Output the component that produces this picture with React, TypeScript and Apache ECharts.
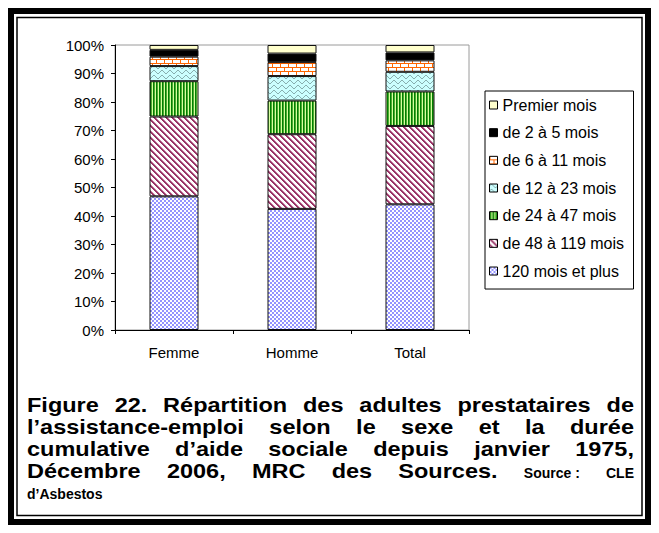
import React, { useEffect, useRef } from 'react';
import * as echarts from 'echarts';

const categories = ['Femme', 'Homme', 'Total'];
const seriesNames = [
  '120 mois et plus',
  'de 48 à 119 mois',
  'de 24 à 47 mois',
  'de 12 à 23 mois',
  'de 6 à 11 mois',
  'de 2 à 5 mois',
  'Premier mois',
];
const v120plus = [46.9, 42.5, 44.1];
const v48to119 = [28.0, 26.2, 27.5];
const v24to47 = [12.4, 11.8, 12.1];
const v12to23 = [5.3, 8.6, 6.9];
const v6to11 = [3.3, 4.9, 4.0];
const v2to5 = [2.4, 3.0, 2.8];
const vPremier = [1.7, 3.0, 2.6];
const seriesValues = [v120plus, v48to119, v24to47, v12to23, v6to11, v2to5, vPremier];

const BIG = 21;
const BIG_SX = 1.12;
const SMALL = 14;
const captionLines: { y: number; tokens: [string, number][]; justify: boolean }[] = [
  { y: 405, justify: true, tokens: [['Figure', BIG], ['22.', BIG], ['Répartition', BIG], ['des', BIG], ['adultes', BIG], ['prestataires', BIG], ['de', BIG]] },
  { y: 427, justify: true, tokens: [['l’assistance-emploi', BIG], ['selon', BIG], ['le', BIG], ['sexe', BIG], ['et', BIG], ['la', BIG], ['durée', BIG]] },
  { y: 449, justify: true, tokens: [['cumulative', BIG], ['d’aide', BIG], ['sociale', BIG], ['depuis', BIG], ['janvier', BIG], ['1975,', BIG]] },
  { y: 471, justify: true, tokens: [['Décembre', BIG], ['2006,', BIG], ['MRC', BIG], ['des', BIG], ['Sources.', BIG], ['Source :', SMALL], ['CLE', SMALL]] },
  { y: 492, justify: false, tokens: [['d’Asbestos', SMALL]] },
];

const FONT = '"Liberation Sans", Arial, sans-serif';

function makePattern(w: number, h: number, draw: (c: CanvasRenderingContext2D) => void) {
  const cv = document.createElement('canvas');
  cv.width = w;
  cv.height = h;
  const c = cv.getContext('2d')!;
  draw(c);
  return { image: cv.toDataURL(), repeat: 'repeat', imageWidth: w, imageHeight: h } as any;
}

function buildColors() {
  const checker = makePattern(4, 4, (c) => {
    c.fillStyle = '#fff';
    c.fillRect(0, 0, 4, 4);
    c.fillStyle = '#9494FF';
    c.fillRect(0, 0, 2, 2);
    c.fillRect(2, 2, 2, 2);
  });
  const diag = makePattern(6, 6, (c) => {
    c.fillStyle = '#fff';
    c.fillRect(0, 0, 6, 6);
    for (let y = 0; y < 6; y++) {
      for (let x = 0; x < 6; x++) {
        const k = (((x - y) % 6) + 6) % 6;
        if (k < 2) {
          c.fillStyle = '#993366';
          c.fillRect(x, y, 1, 1);
        } else if (k === 2) {
          c.fillStyle = '#c98aa8';
          c.fillRect(x, y, 1, 1);
        }
      }
    }
  });
  const vstripe = makePattern(3, 3, (c) => {
    c.fillStyle = '#008000';
    c.fillRect(0, 0, 1, 3);
    c.fillStyle = '#4CA832';
    c.fillRect(1, 0, 1, 3);
    c.fillStyle = '#D6FF9E';
    c.fillRect(2, 0, 1, 3);
  });
  const wave = makePattern(8, 5, (c) => {
    c.fillStyle = '#CCFFFF';
    c.fillRect(0, 0, 8, 5);
    const ys = [1, 0, 0, 1, 2, 3, 3, 2];
    c.fillStyle = '#88AFAF';
    ys.forEach((yy, x) => c.fillRect(x, yy, 1, 1));
  });
  const brick = makePattern(8, 8, (c) => {
    c.fillStyle = '#fff';
    c.fillRect(0, 0, 8, 8);
    c.fillStyle = '#FF6600';
    c.fillRect(0, 3, 8, 1);
    c.fillRect(0, 7, 8, 1);
    c.fillRect(0, 0, 1, 3);
    c.fillRect(4, 4, 1, 3);
  });
  return [checker, diag, vstripe, wave, brick, '#000000', '#FFFFCC'];
}

function measure(text: string, size: number, bold: boolean) {
  const cv = document.createElement('canvas');
  const c = cv.getContext('2d')!;
  c.font = `${bold ? 'bold ' : ''}${size}px ${FONT}`;
  return c.measureText(text).width;
}

function buildCaption() {
  const elems: any[] = [];
  const x0 = 27;
  const x1 = 634;
  captionLines.forEach((line) => {
    const scales = line.tokens.map(([, s]) => (s === BIG ? BIG_SX : 1));
    const widths = line.tokens.map(([t, s], i) => measure(t, s, true) * scales[i]);
    const total = widths.reduce((a, b) => a + b, 0);
    const gap = line.justify && line.tokens.length > 1 ? (x1 - x0 - total) / (line.tokens.length - 1) : 5;
    let x = x0;
    line.tokens.forEach(([t, s], i) => {
      elems.push({
        type: 'text',
        x,
        y: line.y + (BIG - s) * 0.3,
        scaleX: scales[i],
        style: {
          text: t,
          fill: '#000',
          fontSize: s,
          fontWeight: 'bold',
          fontFamily: FONT,
          align: 'left',
          verticalAlign: 'middle',
        },
      });
      x += widths[i] + gap;
    });
  });
  return elems;
}

export default function App() {
  const ref = useRef<HTMLDivElement>(null);
  useEffect(() => {
    if (!ref.current) return;
    const chart = echarts.init(ref.current, undefined, { renderer: 'svg' });
    const colors = buildColors();
    const legendFont = 16;
    const legendOrder = seriesNames.slice().reverse();
    const maxText = Math.max(...legendOrder.map((n) => measure(n, legendFont, false)));
    const legendPadRight = Math.max(2, 148 - 4 - 13 - maxText);

    const series = seriesNames.map((name, i) => ({
      name,
      type: 'bar',
      stack: 'total',
      barWidth: 49,
      data: seriesValues[i],
      itemStyle: { color: colors[i], borderColor: '#111', borderWidth: 1 },
      emphasis: { disabled: true },
    }));

    chart.setOption({
      animation: false,
      backgroundColor: '#fff',
      grid: {
        left: 115,
        top: 45,
        width: 354,
        height: 285,
        show: true,
        borderColor: '#9a9a9a',
        borderWidth: 1,
        backgroundColor: 'transparent',
      },
      xAxis: {
        type: 'category',
        data: categories,
        axisLine: { lineStyle: { color: '#000', width: 1 } },
        axisTick: { show: true, length: 4, lineStyle: { color: '#000' } },
        axisLabel: { color: '#000', fontSize: 15, fontFamily: FONT, margin: 15 },
        z: 10,
      },
      yAxis: {
        type: 'value',
        min: 0,
        max: 100,
        interval: 10,
        axisLine: { show: true, lineStyle: { color: '#000', width: 1 } },
        axisTick: { show: true, length: 4, lineStyle: { color: '#000' } },
        axisLabel: { color: '#000', fontSize: 15, fontFamily: FONT, margin: 11, formatter: '{value}%' },
        splitLine: { show: false },
        z: 10,
      },
      legend: {
        orient: 'vertical',
        left: 485,
        top: 91,
        icon: 'rect',
        itemWidth: 8,
        itemHeight: 8,
        itemGap: 11.67,
        padding: [6, legendPadRight, 10, 4],
        borderColor: '#000',
        borderWidth: 1,
        backgroundColor: '#fff',
        selectedMode: false,
        itemStyle: { borderColor: '#000', borderWidth: 1 },
        textStyle: { color: '#000', fontSize: legendFont, fontFamily: FONT, lineHeight: 16 },
        data: legendOrder,
      },
      series,
      graphic: [
        {
          type: 'rect',
          shape: { x: 11, y: 11, width: 637, height: 511 },
          style: { fill: 'none', stroke: '#000', lineWidth: 6 },
          silent: true,
        },
        {
          type: 'rect',
          shape: { x: 17, y: 17.5, width: 625, height: 498 },
          style: { fill: 'none', stroke: '#000', lineWidth: 1.5 },
          silent: true,
        },
        ...buildCaption(),
      ],
    });
    return () => chart.dispose();
  }, []);
  return (
    <div
      ref={ref}
      style={{ position: 'fixed', left: 0, top: 0, width: 659, height: 533, background: '#fff' }}
    />
  );
}
